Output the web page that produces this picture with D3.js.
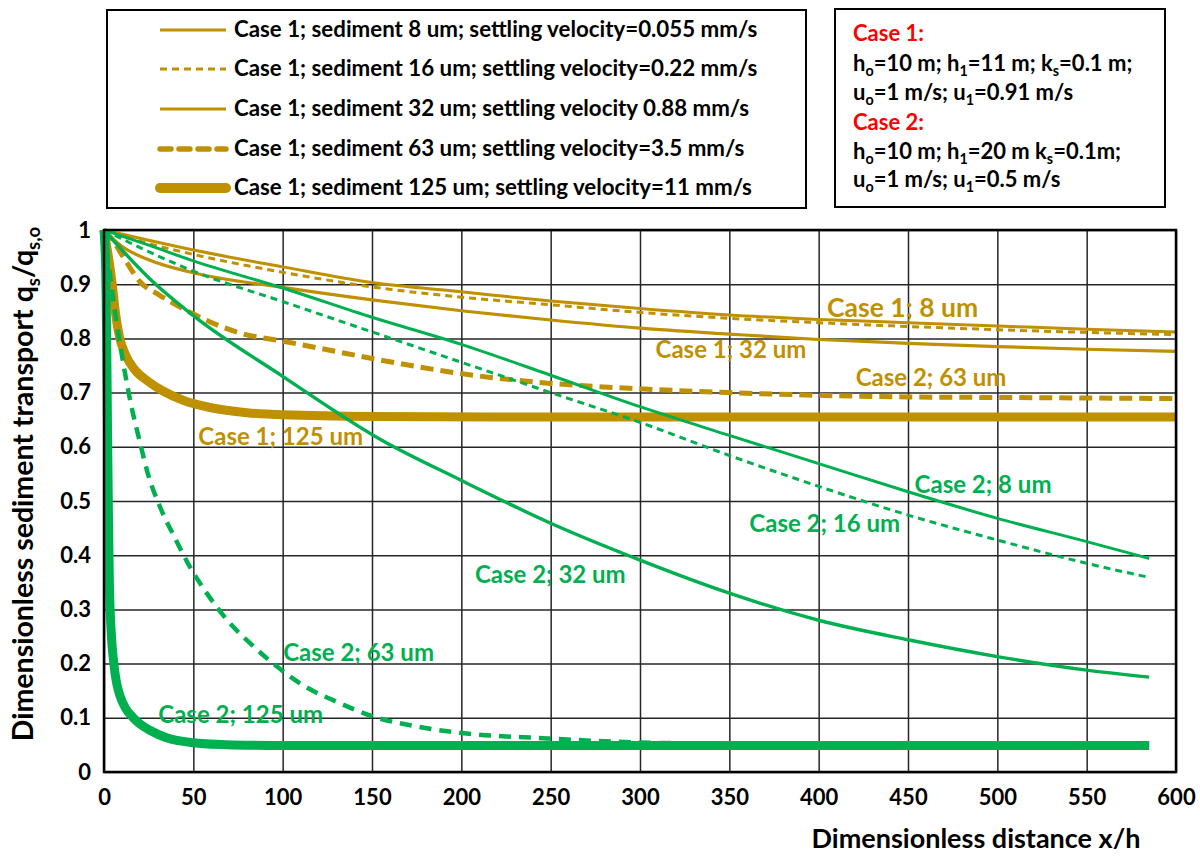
<!DOCTYPE html>
<html>
<head>
<meta charset="utf-8">
<script src="https://cdn.jsdelivr.net/npm/d3@7"></script>
<style>
  html, body { margin: 0; padding: 0; background: #fff; }
  svg { display: block; font-family: Lato, "Open Sans", sans-serif; font-weight: 700; }
</style>
</head>
<body>
<svg id="chart" width="1200" height="860"></svg>
<script>
// ---- axis ticks ----
const xTicks = [0, 50, 100, 150, 200, 250, 300, 350, 400, 450, 500, 550, 600];
const xTickLabels = ["0", "50", "100", "150", "200", "250", "300", "350", "400", "450", "500", "550", "600"];
const yTicks = [0, 0.1, 0.2, 0.3, 0.4, 0.5, 0.6, 0.7, 0.8, 0.9, 1];
const yTickLabels = ["0", "0.1", "0.2", "0.3", "0.4", "0.5", "0.6", "0.7", "0.8", "0.9", "1"];

// ---- Case 1 (h1 = 11 m): [x/h, qs/qs,o] ----
const case1_8um = [[0,1],[25,0.981],[50,0.963],[100,0.932],[150,0.903],[200,0.886],[250,0.869],[300,0.855],[350,0.843],[400,0.835],[450,0.829],[500,0.823],[550,0.817],[600,0.812]];
const case1_16um = [[0,1],[25,0.975],[50,0.955],[100,0.922],[150,0.895],[200,0.876],[250,0.862],[300,0.848],[350,0.837],[400,0.829],[450,0.822],[500,0.816],[550,0.811],[600,0.807]];
const case1_32um = [[0,1],[10,0.97],[25,0.945],[50,0.921],[100,0.894],[150,0.871],[200,0.851],[250,0.834],[300,0.819],[350,0.808],[400,0.798],[450,0.791],[500,0.785],[550,0.78],[600,0.776]];
const case1_63um = [[0,1],[4,0.985],[12.7,0.94],[20,0.905],[31,0.88],[50,0.845],[76,0.81],[100,0.795],[125,0.779],[150,0.763],[175,0.748],[200,0.735],[250,0.717],[300,0.707],[350,0.7],[400,0.695],[450,0.692],[500,0.691],[550,0.69],[600,0.689]];
const case1_125um = [[0,1],[1,0.98],[2.5,0.95],[4.6,0.9],[6.5,0.845],[8.5,0.805],[12,0.77],[17,0.743],[25,0.72],[33,0.703],[45,0.685],[60,0.672],[80,0.663],[100,0.659],[150,0.656],[250,0.655],[600,0.655]];

// ---- Case 2 (h1 = 20 m) ----
const case2_8um = [[0,1],[25,0.972],[50,0.943],[100,0.893],[150,0.839],[200,0.789],[250,0.732],[300,0.674],[350,0.621],[400,0.569],[450,0.517],[500,0.468],[550,0.425],[585,0.394]];
const case2_16um = [[0,1],[25,0.96],[50,0.924],[100,0.868],[150,0.812],[200,0.756],[250,0.7],[300,0.645],[350,0.584],[400,0.527],[450,0.474],[500,0.428],[550,0.385],[585,0.359]];
const case2_32um = [[0,1],[25,0.912],[50,0.842],[100,0.73],[155,0.613],[200,0.538],[250,0.459],[300,0.391],[350,0.33],[400,0.28],[450,0.244],[500,0.213],[550,0.188],[585,0.175]];
const case2_63um = [[0,1],[2,0.95],[4,0.9],[7,0.83],[11,0.75],[15,0.68],[20,0.61],[24.5,0.551],[31.5,0.488],[39.5,0.433],[48,0.379],[57.5,0.33],[69,0.28],[82,0.237],[97,0.194],[113,0.157],[132,0.127],[151,0.102],[175,0.084],[203,0.071],[248,0.062],[285,0.056],[350,0.052],[450,0.05],[585,0.05]];
const case2_125um = [[0,1],[1,0.92],[1.5,0.8],[2,0.62],[2.5,0.47],[3,0.35],[4,0.26],[5.5,0.2],[7,0.165],[9,0.14],[12,0.118],[16.4,0.1],[20,0.089],[25.7,0.077],[35,0.063],[50,0.054],[72,0.05],[100,0.049],[585,0.049]];

// ---- legend and curve labels ----
const legendLabels = [
  "Case 1; sediment 8 um; settling velocity=0.055 mm/s",
  "Case 1; sediment 16 um; settling velocity=0.22 mm/s",
  "Case 1; sediment 32 um; settling velocity 0.88 mm/s",
  "Case 1; sediment 63 um; settling velocity=3.5 mm/s",
  "Case 1; sediment 125 um; settling velocity=11 mm/s"
];
const curveLabels = ["Case 1; 8 um", "Case 1; 32 um", "Case 2; 63 um", "Case 1; 125 um",
                     "Case 2; 8 um", "Case 2; 16 um", "Case 2; 32 um", "Case 2; 63 um", "Case 2; 125 um"];
const caseNotes = [
  "Case 1:",
  "h_o=10 m; h_1=11 m; k_s=0.1 m;",
  "u_o=1 m/s; u_1=0.91 m/s",
  "Case 2:",
  "h_o=10 m; h_1=20 m k_s=0.1m;",
  "u_o=1 m/s; u_1=0.5 m/s"
];

// ---- styling ----
const GOLD = "#BF9000", GREEN = "#00B050";
const series = [
  { data: case1_8um,   color: GOLD,  w: 3,   dash: null },
  { data: case1_16um,  color: GOLD,  w: 3,   dash: "7,5" },
  { data: case1_32um,  color: GOLD,  w: 3.2, dash: null },
  { data: case1_63um,  color: GOLD,  w: 5,   dash: "13,7" },
  { data: case1_125um, color: GOLD,  w: 9,   dash: null },
  { data: case2_8um,   color: GREEN, w: 3,   dash: null },
  { data: case2_16um,  color: GREEN, w: 3,   dash: "7,5" },
  { data: case2_32um,  color: GREEN, w: 3.4, dash: null },
  { data: case2_63um,  color: GREEN, w: 4.5, dash: "12,8" },
  { data: case2_125um, color: GREEN, w: 9,   dash: null }
];

const svg = d3.select("#chart");
const M = { left: 104, right: 1176, top: 230, bottom: 772 };
const x = d3.scaleLinear().domain([0, 600]).range([M.left, M.right]);
const y = d3.scaleLinear().domain([0, 1]).range([M.bottom, M.top]);

// rich text with "_x" or "_{xy}" subscripts
function richText(sel, str, fs) {
  const parts = [];
  const re = /_\{([^}]*)\}|_(.)|([^_]+)/g;
  let m;
  while ((m = re.exec(str))) {
    if (m[1] !== undefined) parts.push({ t: m[1], sub: true });
    else if (m[2] !== undefined) parts.push({ t: m[2], sub: true });
    else parts.push({ t: m[3], sub: false });
  }
  let lowered = false;
  const shift = fs * 0.24;
  parts.forEach(p => {
    const ts = sel.append("tspan").text(p.t);
    if (p.sub) {
      ts.attr("font-size", fs * 0.65);
      if (!lowered) { ts.attr("dy", shift); lowered = true; }
    } else {
      ts.attr("font-size", fs);
      if (lowered) { ts.attr("dy", -shift); lowered = false; }
    }
  });
}

// ---- grid ----
const grid = svg.append("g");
grid.append("g")
  .attr("transform", `translate(0,${M.bottom})`)
  .call(d3.axisBottom(x).tickValues(xTicks).tickSize(-(M.bottom - M.top)).tickFormat(""))
  .call(g => g.select(".domain").remove())
  .call(g => g.selectAll("line").attr("stroke", "#262626").attr("stroke-width", 1.5));
grid.append("g")
  .attr("transform", `translate(${M.left},0)`)
  .call(d3.axisLeft(y).tickValues(yTicks).tickSize(-(M.right - M.left)).tickFormat(""))
  .call(g => g.select(".domain").remove())
  .call(g => g.selectAll("line").attr("stroke", "#262626").attr("stroke-width", 1.5));

// ---- tick labels ----
const xAxis = svg.append("g")
  .attr("transform", `translate(0,${M.bottom})`)
  .call(d3.axisBottom(x).tickValues(xTicks).tickSize(0).tickPadding(0)
        .tickFormat((d, i) => xTickLabels[i]));
xAxis.select(".domain").remove();
xAxis.selectAll("text").attr("font-family", "Lato").attr("font-weight", 700)
  .attr("font-size", 22).attr("fill", "#000").attr("dy", null).attr("y", 33);

const yAxis = svg.append("g")
  .attr("transform", `translate(${M.left},0)`)
  .call(d3.axisLeft(y).tickValues(yTicks).tickSize(0).tickPadding(13)
        .tickFormat((d, i) => yTickLabels[i]));
yAxis.select(".domain").remove();
yAxis.selectAll("text").attr("font-family", "Lato").attr("font-weight", 700)
  .attr("font-size", 22).attr("fill", "#000");

// ---- curves ----
const line = d3.line().x(d => x(d[0])).y(d => y(d[1])).curve(d3.curveMonotoneX);
svg.append("g").selectAll("path").data(series).join("path")
  .attr("d", d => line(d.data))
  .attr("fill", "none")
  .attr("stroke", d => d.color)
  .attr("stroke-width", d => d.w)
  .attr("stroke-dasharray", d => d.dash)
  .attr("stroke-linejoin", "round");

// ---- plot frame ----
svg.append("rect")
  .attr("x", M.left).attr("y", M.top)
  .attr("width", M.right - M.left).attr("height", M.bottom - M.top)
  .attr("fill", "none").attr("stroke", "#000").attr("stroke-width", 2.5);

// ---- curve labels (anchored in data units) ----
const labelAt = [
  { x: 404.7, v: 0.840, c: GOLD, fs: 26.5 }, { x: 308.7, v: 0.763, c: GOLD, fs: 24 },
  { x: 420.7, v: 0.712, c: GOLD, fs: 24 },   { x: 52.8,  v: 0.603, c: GOLD, fs: 24 },
  { x: 453.7, v: 0.514, c: GREEN, fs: 24 },  { x: 361.2, v: 0.443, c: GREEN, fs: 24 },
  { x: 207.6, v: 0.349, c: GREEN, fs: 24 },  { x: 100.3, v: 0.205, c: GREEN, fs: 24 },
  { x: 30.4,  v: 0.091, c: GREEN, fs: 24 }
];
svg.append("g").selectAll("text").data(curveLabels).join("text")
  .attr("x", (d, i) => x(labelAt[i].x))
  .attr("y", (d, i) => y(labelAt[i].v))
  .attr("fill", (d, i) => labelAt[i].c)
  .attr("font-size", (d, i) => labelAt[i].fs)
  .text(d => d);

// ---- axis titles ----
svg.append("text")
  .attr("x", 976).attr("y", 848).attr("text-anchor", "middle")
  .attr("font-size", 27).attr("fill", "#000")
  .text("Dimensionless distance x/h");
const yt = svg.append("text")
  .attr("transform", "translate(33,484) rotate(-90)")
  .attr("text-anchor", "middle").attr("fill", "#000");
richText(yt, "Dimensionless sediment transport q_s/q_{s,o}", 28.5);

// ---- legend ----
const leg = svg.append("g");
leg.append("rect").attr("x", 107).attr("y", 10).attr("width", 699).attr("height", 198)
  .attr("fill", "#fff").attr("stroke", "#000").attr("stroke-width", 2);
const legRowY = [30, 69, 109, 149, 188];
const legStyle = [
  { w: 3, dash: null, cap: "butt" },
  { w: 3, dash: "7,5", cap: "butt" },
  { w: 3.2, dash: null, cap: "butt" },
  { w: 5.5, dash: "11,8", cap: "round" },
  { w: 10, dash: null, cap: "round" }
];
legendLabels.forEach((t, i) => {
  leg.append("line").attr("x1", 160).attr("x2", 226)
    .attr("y1", legRowY[i]).attr("y2", legRowY[i])
    .attr("stroke", GOLD).attr("stroke-width", legStyle[i].w)
    .attr("stroke-dasharray", legStyle[i].dash).attr("stroke-linecap", legStyle[i].cap);
  leg.append("text").attr("x", 234).attr("y", legRowY[i] + 7)
    .attr("font-size", 22.3).attr("fill", "#000").text(t);
});

// ---- case parameters box ----
const box = svg.append("g");
box.append("rect").attr("x", 835).attr("y", 9).attr("width", 330).attr("height", 198)
  .attr("fill", "#fff").attr("stroke", "#000").attr("stroke-width", 2);
const noteY = [41, 71, 100, 130, 159, 187];
caseNotes.forEach((t, i) => {
  const el = box.append("text").attr("x", 853).attr("y", noteY[i])
    .attr("fill", t.startsWith("Case") ? "#FF0000" : "#000");
  richText(el, t, 22);
});
</script>
</body>
</html>
